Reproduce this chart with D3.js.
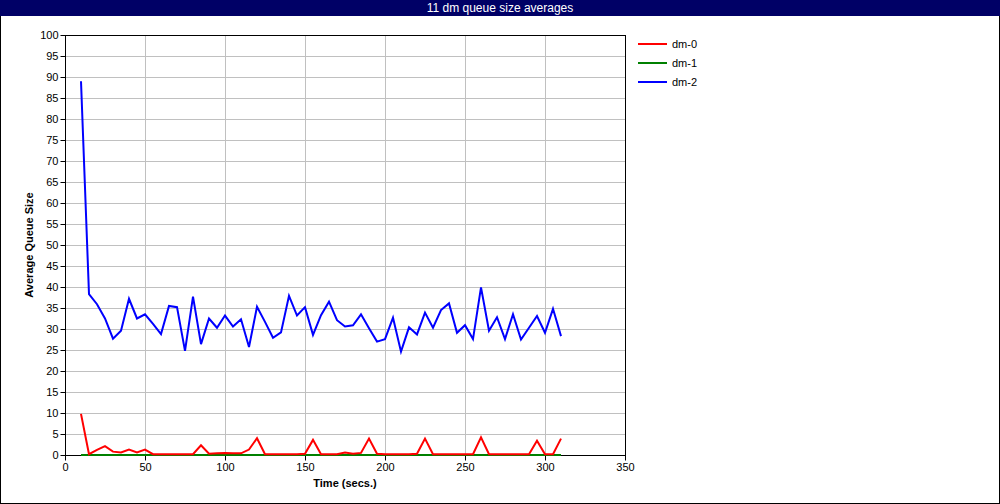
<!DOCTYPE html>
<html><head><meta charset="utf-8">
<script src="https://cdn.jsdelivr.net/npm/d3@7"></script>
<style>body{margin:0;background:#fff}svg{display:block}text{font-family:"Liberation Sans",Arial,sans-serif}</style>
</head><body><svg id="c" width="1000" height="504"></svg>
<script>
const title = "11 dm queue size averages";
const times = d3.range(10, 311, 5);
const seriesNames = ["dm-0", "dm-1", "dm-2"];
const seriesColors = ["#ff0000", "#008000", "#0000ff"];
const dm0 = [9.8,0.2,1.2,2.1,0.8,0.6,1.3,0.6,1.3,0.2,0.2,0.2,0.2,0.2,0.2,2.3,0.3,0.4,0.5,0.4,0.4,1.3,4.0,0.2,0.2,0.2,0.2,0.2,0.3,3.6,0.2,0.2,0.2,0.6,0.3,0.5,3.9,0.3,0.2,0.2,0.2,0.2,0.3,3.9,0.2,0.2,0.2,0.2,0.2,0.2,4.2,0.2,0.2,0.2,0.2,0.2,0.2,3.4,0.2,0.2,3.9];
const dm1 = [0,0,0,0,0,0,0,0,0,0,0,0,0,0,0,0,0,0,0,0,0,0,0,0,0,0,0,0,0,0,0,0,0,0,0,0,0,0,0,0,0,0,0,0,0,0,0,0,0,0,0,0,0,0,0,0,0,0,0,0,0];
const dm2 = [89.0,38.3,35.9,32.5,27.7,29.6,37.2,32.5,33.5,31.2,28.8,35.5,35.2,24.8,37.7,26.4,32.5,30.3,33.2,30.6,32.3,25.7,35.3,31.7,27.9,29.2,37.9,33.2,35.2,28.6,33.3,36.5,32.1,30.6,30.9,33.5,30.2,27.0,27.6,32.7,24.6,30.4,28.7,33.9,30.3,34.5,36.1,29.1,30.9,27.6,39.9,29.6,32.8,27.6,33.5,27.5,30.3,33.1,29.1,34.8,28.3];
const xTicks = [0, 50, 100, 150, 200, 250, 300, 350];
const yTicks = [0,5,10,15,20,25,30,35,40,45,50,55,60,65,70,75,80,85,90,95,100];
const seriesData = [dm0, dm1, dm2];

const svg = d3.select("#c");
const W = 1000, H = 504;
const L = 65, R = 625, T = 35, B = 455;
const x = d3.scaleLinear().domain([0, 350]).range([L, R]);
const y = d3.scaleLinear().domain([0, 100]).range([B, T]);

// border
svg.append("rect").attr("x",0.5).attr("y",0.5).attr("width",W-1).attr("height",H-1).attr("fill","#fff").attr("stroke","#000");
// title bar
svg.append("rect").attr("x",0).attr("y",0).attr("width",W).attr("height",16).attr("fill","#000066");
svg.append("text").attr("x",W/2).attr("y",12).attr("text-anchor","middle").attr("fill","#fff")
  .attr("font-size",12).text(title);

// grid
const g = svg.append("g");
g.selectAll(".gx").data(xTicks.filter(d=>d>0&&d<350)).join("line")
  .attr("x1",d=>x(d)+0.5).attr("x2",d=>x(d)+0.5).attr("y1",T).attr("y2",B).attr("stroke","#c0c0c0");
g.selectAll(".gy").data(yTicks.filter(d=>d>0&&d<100)).join("line")
  .attr("y1",d=>y(d)+0.5).attr("y2",d=>y(d)+0.5).attr("x1",L).attr("x2",R).attr("stroke","#c0c0c0");

// axes
const xAxis = d3.axisBottom(x).tickValues(xTicks).tickSize(5).tickPadding(3);
const yAxis = d3.axisLeft(y).tickValues(yTicks).tickSize(5).tickPadding(2);
const gx = svg.append("g").attr("transform",`translate(0,${B+0.5})`).call(xAxis);
const gy = svg.append("g").attr("transform",`translate(${L+0.5},0)`).call(yAxis);
[gx,gy].forEach(a=>{a.select(".domain").remove();a.selectAll("line").attr("stroke","#000");
  a.selectAll("text").attr("font-size",11).attr("fill","#000").attr("font-family","Liberation Sans, Arial, sans-serif");});

// frame
svg.append("rect").attr("x",L+0.5).attr("y",T+0.5).attr("width",R-L).attr("height",B-T).attr("fill","none").attr("stroke","#000");

// lines
const line = d3.line().x((d,i)=>x(times[i])).y(d=>y(d));
[1,0,2].forEach(k=>{
  svg.append("path").datum(seriesData[k]).attr("d",line).attr("fill","none")
    .attr("stroke",seriesColors[k]).attr("stroke-width",2).attr("stroke-linejoin","miter");
});

// axis titles
svg.append("text").attr("x",(L+R)/2).attr("y",487).attr("text-anchor","middle").attr("font-size",11)
  .attr("font-weight","bold").text("Time (secs.)");
svg.append("text").attr("transform",`translate(33,${(T+B)/2}) rotate(-90)`).attr("text-anchor","middle")
  .attr("font-size",11).attr("font-weight","bold").text("Average Queue Size");

// legend
const lg = svg.append("g");
seriesNames.forEach((n,i)=>{
  const yy = 44 + i*19;
  lg.append("line").attr("x1",638).attr("x2",667).attr("y1",yy).attr("y2",yy).attr("stroke",seriesColors[i]).attr("stroke-width",2);
  lg.append("text").attr("x",672).attr("y",yy+4).attr("font-size",11).text(n);
});
</script></body></html>
